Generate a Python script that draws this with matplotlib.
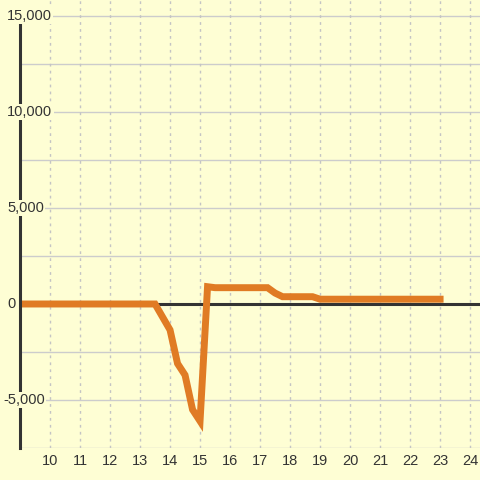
import matplotlib
matplotlib.use("Agg")
import matplotlib.pyplot as plt

plt.rcParams['font.family'] = ['Liberation Sans', 'DejaVu Sans']

# data
hours = [9, 13.5, 14.0, 14.25, 14.5, 14.75, 15.0, 15.25, 15.5, 17.25, 17.5, 17.75, 18.75, 19.0, 23.0]
values = [0, 0, -1350, -3100, -3700, -5500, -6100, 900, 850, 850, 570, 380, 380, 250, 250]

xticks = list(range(10, 25))
yticks = [-5000, 0, 5000, 10000, 15000]
ylabels = ["-5,000", "0", "5,000", "10,000", "15,000"]

bg = "#fefed4"
txt = "#333333"

fig = plt.figure(figsize=(4.8, 4.8), dpi=100, facecolor=bg)
ax = fig.add_axes([20 / 480, 32 / 480, 460 / 480, 448 / 480])
ax.set_facecolor(bg)

ax.set_xlim(9, 24.33)
ax.set_ylim(-7500, 15833)

# grid
for yv in range(-7500, 15001, 2500):
    ax.axhline(yv, color="#cccccc", lw=1, zorder=1)
for xv in xticks:
    ax.axvline(xv, color="#c4c4c4", lw=1, ls=(0, (2, 3)), zorder=1)
ax.axhline(0, color=txt, lw=2.2, zorder=2)

ax.plot(hours, values, color="#e07b24", lw=5, solid_joinstyle="miter", zorder=3)

for s in ["top", "right", "bottom"]:
    ax.spines[s].set_visible(False)
ax.spines["left"].set_color(txt)
ax.spines["left"].set_linewidth(2.2)
ax.spines["left"].set_bounds(-7500, 14600)
ax.spines["left"].set_zorder(4)

ax.set_xticks(xticks)
ax.set_xticklabels([str(t) for t in xticks])
ax.tick_params(axis="x", length=0, pad=4, labelsize=10.5, labelcolor=txt)
ax.set_yticks([])

# y labels sit over the plot with a background box
label_left_px = [3, 7, 7, 7, 7]
for yv, lab, xl in zip(yticks, ylabels, label_left_px):
    ax.text((xl - 20) / 460, yv, lab, transform=ax.get_yaxis_transform(),
            ha="left", va="center", fontsize=10.5, color=txt, zorder=5,
            bbox=dict(boxstyle="square,pad=0.1", fc=bg, ec="none"))

fig.savefig("out.png", dpi=100, facecolor=bg)
